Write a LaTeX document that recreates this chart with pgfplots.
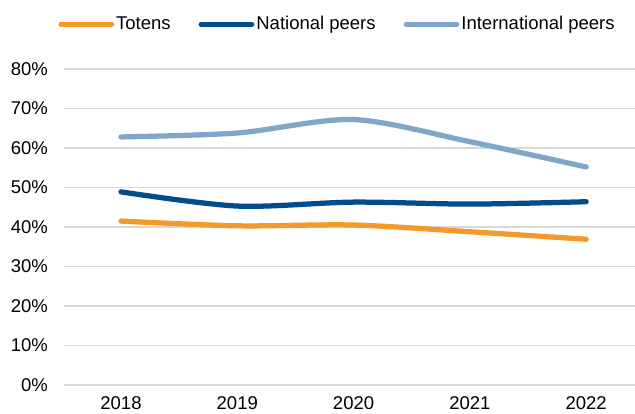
\documentclass[border=0pt]{standalone}
\usepackage{pgfplots}
\pgfplotsset{compat=1.18}
\usepackage{fontspec}
\setmainfont{Liberation Sans}
\definecolor{cOr}{HTML}{F39A2B}
\definecolor{cNa}{HTML}{004C8C}
\definecolor{cIn}{HTML}{80A6CA}
\definecolor{cGr}{HTML}{D9D9D9}
\begin{document}
\fontsize{18.5bp}{21bp}\selectfont
\begin{tikzpicture}
\begin{axis}[
  at={(0,0)}, anchor=south west,
  scale only axis, width=571bp, height=316bp,
  xmin=-0.49, xmax=4.42, ymin=0, ymax=80,
  axis x line*=bottom, axis y line*=left,
  axis line style={draw=none},
  ytick={0,10,...,80},
  yticklabel={\pgfmathprintnumber{\tick}\%},
  xtick={0,1,2,3,4},
  xticklabels={2018,2019,2020,2021,2022},
  ymajorgrids, grid style={cGr, line width=1.3bp},
  major tick length=0pt,
  tick label style={font=\fontsize{18.5bp}{21bp}\selectfont, inner sep=0pt},
  yticklabel style={xshift=-16bp},
  xticklabel style={yshift=-11bp},
  /pgf/number format/assume math mode=true,
  clip=false,
  legend style={at={(0.479,1.142)}, anchor=center, draw=none, fill=none,
    font=\fontsize{18.5bp}{21bp}\selectfont,
    /tikz/every even column/.append style={column sep=26bp},
    nodes={inner sep=2bp}},
  legend columns=3,
  legend image code/.code={\draw[line width=5.25bp, line cap=round] (2.5bp,0bp) -- (53bp,0bp);},
  every axis plot/.append style={line width=5.25bp, line cap=round, smooth, tension=0.5},
]
\addplot[cOr] coordinates {(0,41.5) (1,40.3) (2,40.5) (3,38.8) (4,36.9)};
\addlegendentry{Totens}
\addplot[cNa] coordinates {(0,48.9) (1,45.3) (2,46.3) (3,45.8) (4,46.4)};
\addlegendentry{National peers}
\addplot[cIn] coordinates {(0,62.8) (1,63.8) (2,67.2) (3,61.6) (4,55.2)};
\addlegendentry{International peers}
\end{axis}
\pgfresetboundingbox
\path[use as bounding box] (-64bp,-29bp) rectangle (571bp,385bp);
\end{tikzpicture}
\end{document}
